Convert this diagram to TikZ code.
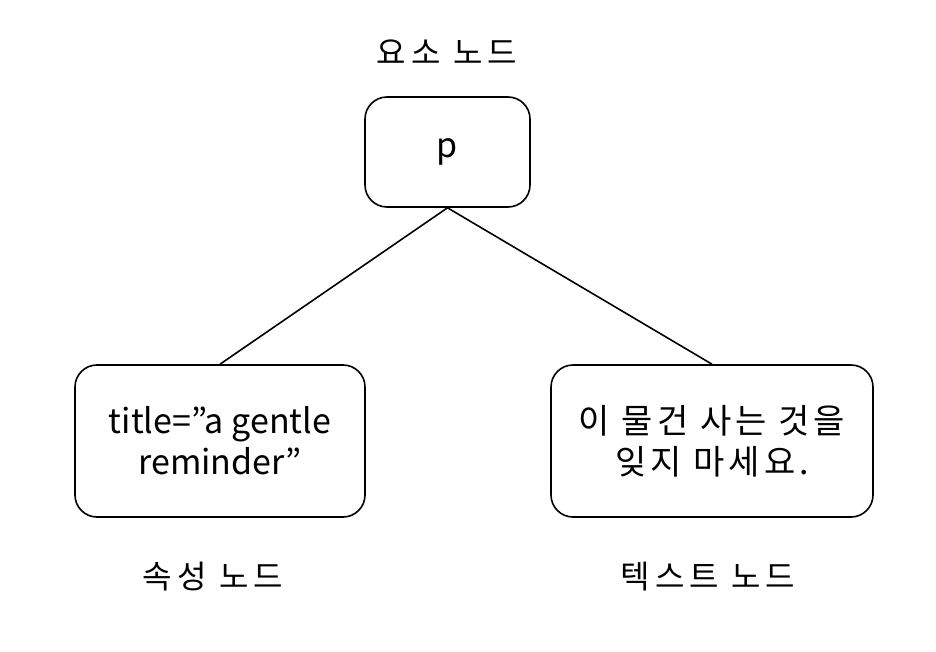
\documentclass[tikz,border=0pt]{standalone}
\usepackage{fontspec}
\setmainfont{Noto Sans CJK KR}
\newfontfamily\kindfont[LetterSpace=16]{Noto Sans CJK KR}
\newfontfamily\hangulfont[LetterSpace=12]{Noto Sans CJK KR}
\usetikzlibrary{positioning}
\tikzstyle{domnode} = [rectangle, rounded corners=22pt, draw, line width=1.6pt, align=center, font=\fontsize{34}{41}\selectfont]
\tikzstyle{kind} = [font=\fontsize{32}{38}\kindfont]

\begin{document}
\begin{tikzpicture}[x=1pt, y=-1pt, auto]
  \useasboundingbox (0,0) rectangle (936,652);
  \node[domnode, minimum width=165pt, minimum height=110pt] (elem) at (447.5,152) {p};
  \node[domnode, minimum width=290pt, minimum height=152pt] (attr) at (220,441) {title=”a gentle\\reminder”};
  \node[domnode, minimum width=322pt, minimum height=152pt] (text) at (712,441) {\hangulfont 이 물건 사는 것을\\\hangulfont 잊지 마세요.};
  \node[kind] (elemkind) at (447,52) {요소 노드};
  \node[kind] (attrkind) at (213,577) {속성 노드};
  \node[kind] (textkind) at (708,577) {텍스트 노드};

  \draw[line width=1.6pt] (elem.south) -- (attr.north);
  \draw[line width=1.6pt] (elem.south) -- (text.north);
\end{tikzpicture}
\end{document}
